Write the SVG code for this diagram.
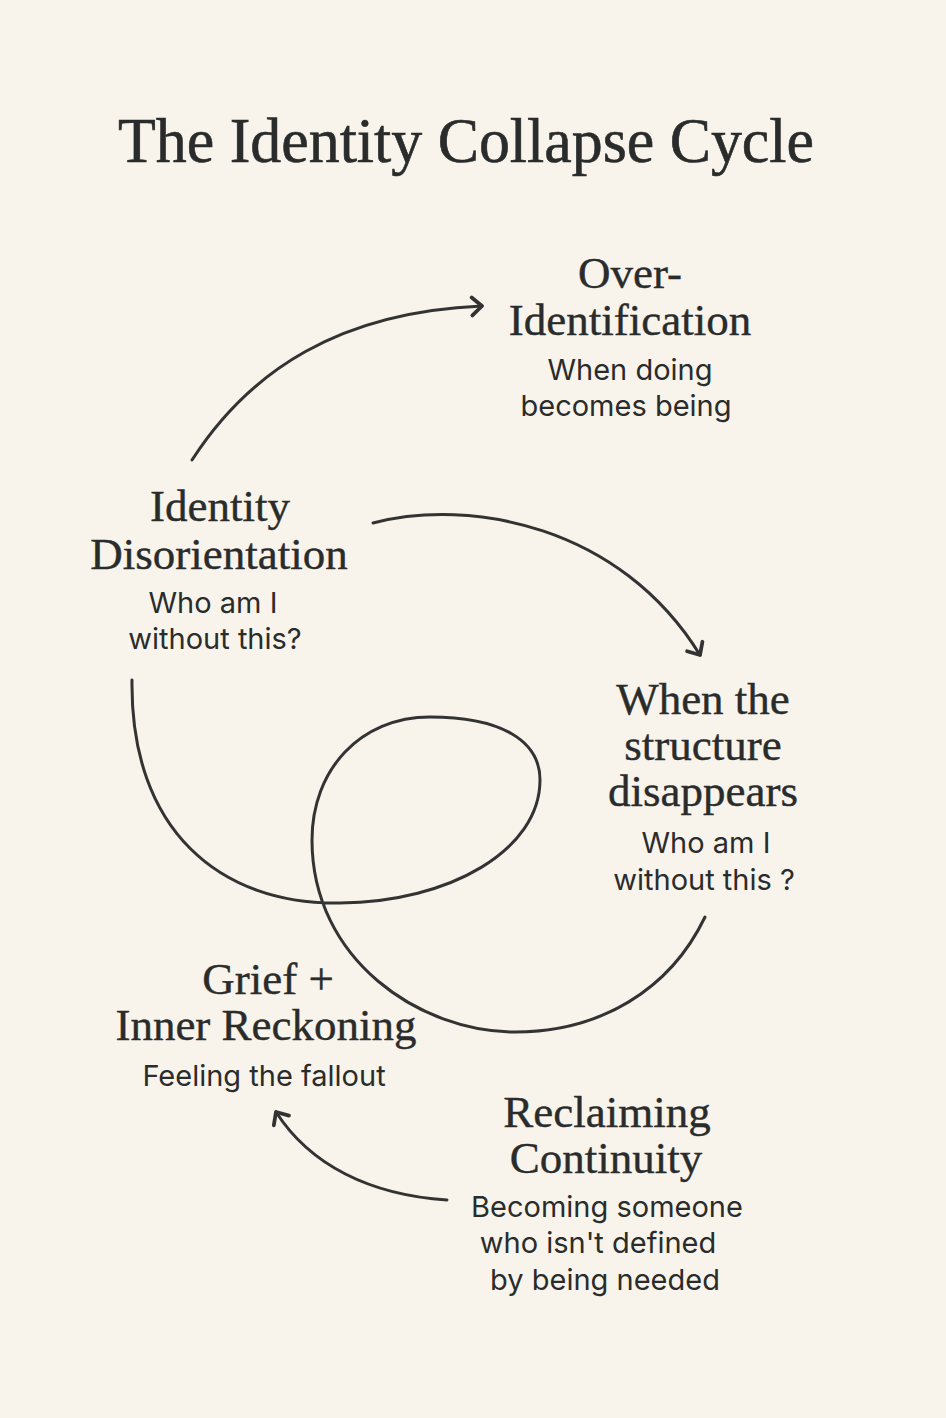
<svg xmlns="http://www.w3.org/2000/svg" width="946" height="1418" viewBox="0 0 946 1418">
<defs>
<style>
.bg{fill:#f8f4eb}
.title{font-family:"Liberation Serif","Times New Roman",serif;font-size:64px;fill:#2a2c2c;stroke:#2a2c2c;stroke-width:0.6px;text-anchor:middle}
.head{font-family:"Liberation Serif","Times New Roman",serif;font-size:45px;fill:#2a2c2c;stroke:#2a2c2c;stroke-width:0.4px;text-anchor:middle}
.sub{font-family:Inter,"Noto Sans","Liberation Sans",sans-serif;font-size:29px;fill:#2a2c2c;text-anchor:middle}
.edge{fill:none;stroke:#333333;stroke-width:3;stroke-linecap:round;stroke-linejoin:round}
</style>
<marker id="chev" viewBox="0 0 24 24" refX="17" refY="12" markerWidth="24" markerHeight="24" markerUnits="userSpaceOnUse" orient="auto">
<path d="M7,3 L17,12 L7,21" fill="none" stroke="#333333" stroke-width="3.8" stroke-linecap="round" stroke-linejoin="round"/>
</marker>
</defs>
<rect class="bg" x="0" y="0" width="946" height="1418"/>
<text class="title" x="466" y="162" textLength="696" lengthAdjust="spacingAndGlyphs">The Identity Collapse Cycle</text>

<g id="connectors">
<path class="edge" d="M192,460 C250,370 340,312 482,306" marker-end="url(#chev)"/>
<path class="edge" d="M373,523 C470,498 620,525 700,655" marker-end="url(#chev)"/>
<path class="edge" d="M132,680 C130,830 220,905 340,903 C450,902 540,850 540,780 C540,740 500,717 430,717 C360,717 312,770 312,840 C312,960 420,1032 515,1032 C600,1032 670,990 705,917"/>
<path class="edge" d="M447,1200 C370,1195 310,1165 276,1112" marker-end="url(#chev)"/>
</g>

<g id="over-identification">
<text class="head" x="630" y="288">Over-</text>
<text class="head" x="630" y="335">Identification</text>
<text class="sub" x="630" y="380">When doing</text>
<text class="sub" x="626" y="416">becomes being</text>
</g>

<g id="identity-disorientation">
<text class="head" x="220" y="521">Identity</text>
<text class="head" x="219" y="569">Disorientation</text>
<text class="sub" x="213" y="613">Who am I</text>
<text class="sub" x="215" y="649">without this?</text>
</g>

<g id="structure-disappears">
<text class="head" x="703" y="714">When the</text>
<text class="head" x="703" y="760">structure</text>
<text class="head" x="703" y="806">disappears</text>
<text class="sub" x="706" y="853">Who am I</text>
<text class="sub" x="704" y="890">without this ?</text>
</g>

<g id="grief-reckoning">
<text class="head" x="268" y="994">Grief +</text>
<text class="head" x="266" y="1040">Inner Reckoning</text>
<text class="sub" x="264" y="1086">Feeling the fallout</text>
</g>

<g id="reclaiming-continuity">
<text class="head" x="607" y="1127">Reclaiming</text>
<text class="head" x="606" y="1173">Continuity</text>
<text class="sub" x="607" y="1217">Becoming someone</text>
<text class="sub" x="598" y="1253">who isn't defined</text>
<text class="sub" x="605" y="1290">by being needed</text>
</g>
</svg>
